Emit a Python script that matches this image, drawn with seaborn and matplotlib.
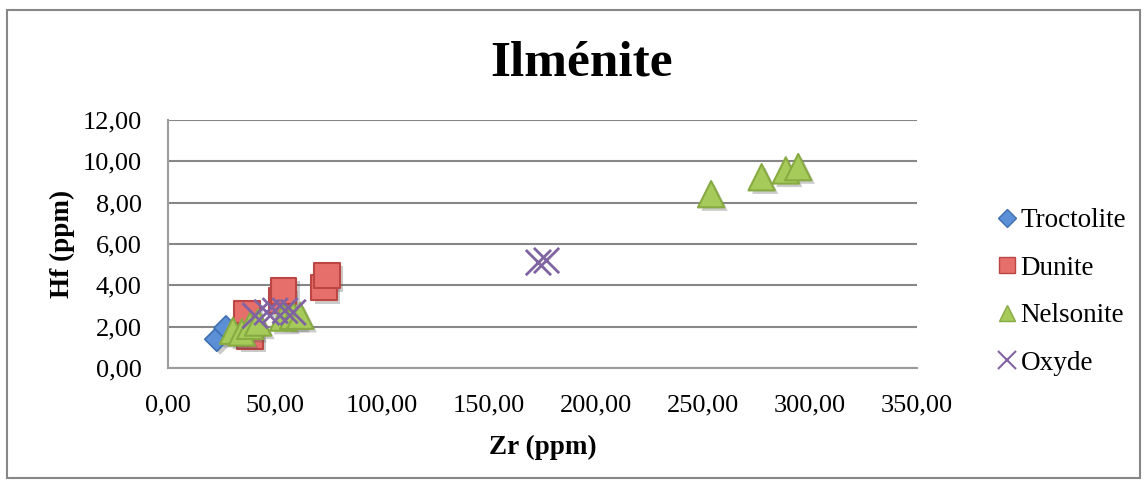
import matplotlib
matplotlib.use("Agg")
import matplotlib.pyplot as plt
import matplotlib.patheffects as pe
from matplotlib.lines import Line2D
from matplotlib.patches import Rectangle
import seaborn as sns

# Zr / Hf concentrations (ppm) in ilmenite, by host rock
troctolite_zr = [22.8, 27.1]
troctolite_hf = [1.39, 1.94]

dunite_zr = [36.8, 38.4, 53.2, 54.0, 73.0, 74.3]
dunite_hf = [2.61, 1.55, 3.26, 3.74, 3.90, 4.47]

nelsonite_zr = [30.4, 34.5, 38.4, 42.1, 53.8, 58.5, 61.8, 253.8, 277.4, 288.7, 294.5]
nelsonite_hf = [1.80, 1.72, 2.04, 2.20, 2.44, 2.53, 2.53, 8.41, 9.23, 9.56, 9.72]

oxyde_zr = [40.7, 46.2, 50.1, 54.7, 58.5, 173.1, 176.9]
oxyde_hf = [2.53, 2.69, 2.77, 2.77, 2.69, 5.10, 5.20]

series_names = ["Troctolite", "Dunite", "Nelsonite", "Oxyde"]
x_ticks = [0, 50, 100, 150, 200, 250, 300, 350]
y_ticks = [0, 2, 4, 6, 8, 10, 12]

sns.set_style("white")
plt.rcParams["font.family"] = ["Liberation Serif", "DejaVu Serif"]
plt.rcParams["text.color"] = "black"
plt.rcParams["axes.labelcolor"] = "black"

GRID = "#878787"
AXIS = "#9C9C9C"
styles = {
    "Troctolite": dict(marker="D", s=150, color="#5B90D6", edgecolor="#3F6FAE", linewidth=1.2),
    "Dunite": dict(marker="s", s=340, color="#E66F6C", edgecolor="#BC4643", linewidth=1.5),
    "Nelsonite": dict(marker="^", s=360, color="#A6CB5A", edgecolor="#88AA43", linewidth=1.5),
    "Oxyde": dict(marker="x", s=330, color="#8064A2", linewidth=2.0),
}
data = {
    "Troctolite": (troctolite_zr, troctolite_hf),
    "Dunite": (dunite_zr, dunite_hf),
    "Nelsonite": (nelsonite_zr, nelsonite_hf),
    "Oxyde": (oxyde_zr, oxyde_hf),
}

fig = plt.figure(figsize=(11.47, 4.84), dpi=100)
ax = fig.add_axes([168 / 1147, 1 - 368 / 484, 749 / 1147, 248 / 484])

shadow = [pe.SimplePatchShadow(offset=(2.5, -2.5), shadow_rgbFace="#555555", alpha=0.3), pe.Normal()]
for name in series_names:
    zr, hf = data[name]
    st = styles[name]
    sns.scatterplot(x=zr, y=hf, ax=ax, legend=False, zorder=3, **st)
    ax.collections[-1].set_path_effects(shadow)

ax.set_xlim(0, 350)
ax.set_ylim(0, 12)
ax.set_xticks(x_ticks)
ax.set_yticks(y_ticks)
ax.set_xticklabels([f"{v:.2f}".replace(".", ",") for v in x_ticks])
ax.set_yticklabels([f"{v:.2f}".replace(".", ",") for v in y_ticks])
ax.yaxis.grid(True, color=GRID, linewidth=1.5)
ax.set_axisbelow(True)
for side in ["top", "right"]:
    ax.spines[side].set_visible(False)
for side in ["left", "bottom"]:
    ax.spines[side].set_color(AXIS)
    ax.spines[side].set_linewidth(1.5)
ax.tick_params(axis="both", which="major", width=1.5, color=AXIS,
               labelsize=19, labelcolor="black", direction="out")
ax.tick_params(axis="y", length=3, pad=16)
ax.tick_params(axis="x", length=0, pad=19)

ax.set_xlabel("Zr (ppm)", fontsize=19.5, fontweight="bold", labelpad=13)
ax.set_ylabel("Hf (ppm)", fontsize=19.5, fontweight="bold", labelpad=5)
fig.text(582 / 1147, 1 - 63 / 484, "Ilménite", fontsize=37, fontweight="bold",
         ha="center", va="center")

handles = []
for name in series_names:
    st = styles[name]
    if st["marker"] == "x":
        h = Line2D([], [], linestyle="none", marker="x", markersize=13,
                   markeredgecolor=st["color"], markeredgewidth=1.5)
    else:
        h = Line2D([], [], linestyle="none", marker=st["marker"],
                   markersize=12 if st["marker"] != "D" else 9,
                   markerfacecolor=st["color"], markeredgecolor=st["edgecolor"],
                   markeredgewidth=1.0)
    handles.append(h)
fig.legend(handles, series_names, loc="center left", bbox_to_anchor=(996 / 1147, 1 - 292 / 484),
           frameon=False, fontsize=19.5, handlelength=0.8, handletextpad=0.1,
           labelspacing=0.83, borderaxespad=0, borderpad=0)

fig.patches.append(Rectangle((7 / 1147, 1 - 478 / 484), 1133 / 1147, 468 / 484,
                             transform=fig.transFigure, fill=False,
                             edgecolor=GRID, linewidth=1.5))

fig.savefig("out.png", dpi=100)
